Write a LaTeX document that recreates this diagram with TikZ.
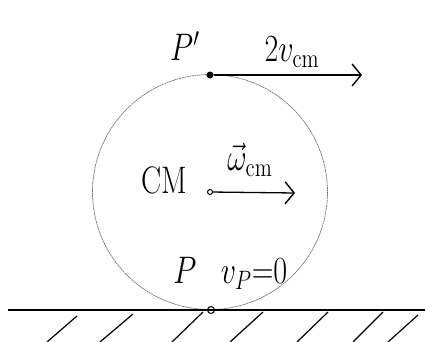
\documentclass[tikz,border=0pt]{standalone}
\usetikzlibrary{arrows.meta}
\newcommand{\biglbl}[1]{\scalebox{1.45}[1.85]{\huge #1}}
\begin{document}
\begin{tikzpicture}[x=1pt,y=-1pt,
  lbl/.style={inner sep=0pt},
  vec/.style={line width=1.3pt,-{Straight Barb[length=9pt,width=22pt,line width=1.4pt]}},
  hatch/.style={line width=1.2pt},
  wheel/.style={draw=black!55,line width=0.7pt,dash pattern=on 2pt off 0.6pt}]
\useasboundingbox (0,0) rectangle (425,342);
\coordinate (C) at (210,192);
\draw[wheel] (C) circle[radius=117.5];
% ground
\coordinate (g1) at (8,310);
\coordinate (g2) at (425,310);
\draw[line width=1.2pt] (g1) -- (g2);
\foreach \xa/\ya/\xb/\yb in {47/342/77/316,100/342/133/314,172/342/203/312,230/342/263/312,297/342/328/312,353/342/383/312,388/342/418/315}
  \draw[hatch] (\xa,\ya) -- (\xb,\yb);
% points
\node[circle,fill=black,inner sep=0pt,minimum size=7pt] (Pt) at (210,75) {};
\node[circle,draw=black,line width=1pt,inner sep=0pt,minimum size=5pt] (CMp) at (C) {};
\node[circle,draw=black,line width=1pt,inner sep=0pt,minimum size=7pt] (Pb) at (211,310) {};
\coordinate (a1) at (362,75);
\coordinate (a2) at (295,193);
\draw[vec] (Pt) -- (a1);
\draw[vec] (CMp) -- (a2);
% labels
\node[lbl] (lPt) at (185,46) {\biglbl{$P'$}};
\node[lbl] (lv2) at (292,52) {\biglbl{$2v_{\mathrm{cm}}$}};
\node[lbl] (lCM) at (164,180) {\biglbl{CM}};
\node[lbl] (lw) at (250,160) {\biglbl{$\vec{\omega}_{\mathrm{cm}}$}};
\node[lbl] (lP) at (185,270) {\biglbl{$P$}};
\node[lbl] (lvp) at (254,274) {\biglbl{$v_P{=}0$}};
\end{tikzpicture}
\end{document}
